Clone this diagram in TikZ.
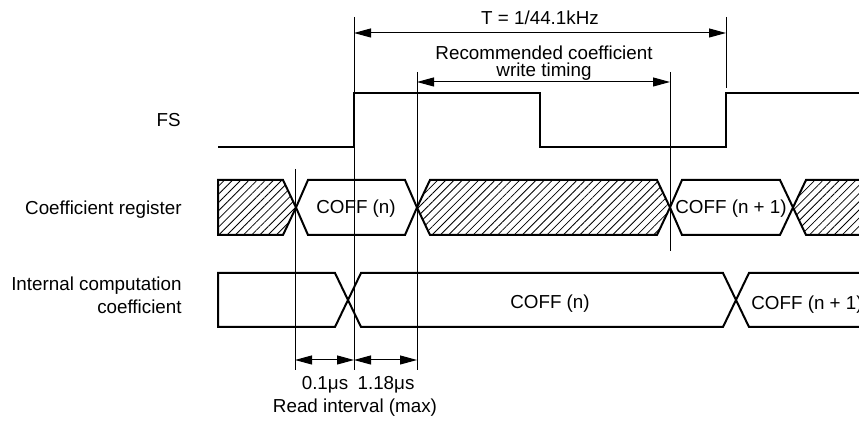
\documentclass[tikz,border=0pt]{standalone}
\usepackage{fontspec}
\setmainfont{Liberation Sans}
\usetikzlibrary{arrows.meta}
\usetikzlibrary{patterns.meta}

\tikzset{
  sig/.style={line width=1pt, line join=miter},
  bus/.style={line width=1pt, line join=miter},
  hatched/.style={bus, pattern={Lines[angle=45,distance=2.9pt,line width=.4pt]}},
  guide/.style={line width=.5pt},
  span/.style={line width=.5pt, {Triangle[length=8.5pt,width=4.5pt]}-{Triangle[length=8.5pt,width=4.5pt]}},
  lbl/.style={font=\fontsize{9.4}{11}\selectfont, inner sep=0pt, anchor=base},
}

\begin{document}
\begin{tikzpicture}[x=.5pt,y=-.5pt]
\useasboundingbox (0,0) rectangle (859,421);
\clip (0,0) rectangle (859,421);

% guide lines
\coordinate (g1t) at (295,169); \coordinate (g1b) at (295,370);
\coordinate (g2t) at (354,17);  \coordinate (g2b) at (354,370);
\coordinate (g3t) at (417,72);  \coordinate (g3b) at (417,370);
\coordinate (g4t) at (670,72);  \coordinate (g4b) at (670,251);
\coordinate (g5t) at (726,17);  \coordinate (g5b) at (726,88);
\foreach \a/\b in {g1t/g1b, g2t/g2b, g3t/g3b, g4t/g4b, g5t/g5b}
  \draw[guide] (\a) -- (\b);

% signal names
\node[lbl, anchor=base east] (fs) at (181,127) {FS};
\node[lbl, anchor=base east] (creg) at (182,215) {Coefficient register};
\node[lbl, anchor=base east] (icoef1) at (182,291) {Internal computation};
\node[lbl, anchor=base east] (icoef2) at (182,314) {coefficient};

% FS
\draw[sig] (218,147) -- (354,147) -- (354,93) -- (540,93) -- (540,147) -- (726,147) -- (726,93) -- (870,93);

% coefficient register
\draw[hatched] (218,180) -- (283,180) -- (296,207.5) -- (283,235) -- (218,235) -- cycle;
\draw[bus] (296,207.5) -- (308,180) -- (405,180) -- (417,207.5) -- (405,235) -- (308,235) -- cycle;
\draw[hatched] (417,207.5) -- (430,180) -- (657,180) -- (670,207.5) -- (657,235) -- (430,235) -- cycle;
\draw[bus] (670,207.5) -- (682,180) -- (780,180) -- (793,207.5) -- (780,235) -- (682,235) -- cycle;
\draw[hatched] (793,207.5) -- (806,180) -- (880,180) -- (880,235) -- (806,235) -- cycle;
\node[lbl] (rn) at (356,214) {COFF (n)};
\node[lbl] (rn1) at (731,214) {COFF (n + 1)};

% internal computation coefficient
\draw[bus] (218,273) -- (335,273) -- (348,300) -- (335,327) -- (218,327) -- cycle;
\draw[bus] (348,300) -- (361,273) -- (723,273) -- (736,300) -- (723,327) -- (361,327) -- cycle;
\draw[bus] (736,300) -- (749,273) -- (880,273) -- (880,327) -- (749,327) -- cycle;
\node[lbl] (in) at (550,309) {COFF (n)};
\node[lbl, anchor=base west] (in1) at (751,310) {COFF (n + 1)};

% period and write timing
\coordinate (ta) at (354,33); \coordinate (tb) at (726,33);
\draw[span] (ta) -- (tb);
\node[lbl] (per) at (540,25) {T = 1/44.1kHz};
\coordinate (wa) at (417,82); \coordinate (wb) at (670,82);
\draw[span] (wa) -- (wb);
\node[lbl] (rec1) at (544,60) {Recommended coefficient};
\node[lbl] (rec2) at (544,77) {write timing};

% read interval
\coordinate (ra) at (295,360); \coordinate (rb) at (354,360); \coordinate (rc) at (417,360);
\draw[span] (ra) -- (rb);
\draw[span] (rb) -- (rc);
\node[lbl] (d1) at (325,390) {0.1μs};
\node[lbl] (d2) at (386,390) {1.18μs};
\node[lbl] (rd) at (355,413) {Read interval (max)};
\end{tikzpicture}
\end{document}
